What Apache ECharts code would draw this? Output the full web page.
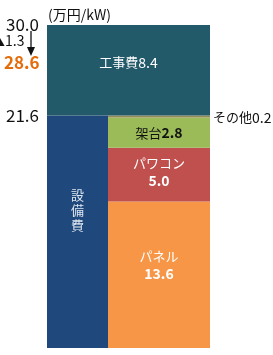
<!DOCTYPE html>
<html><head><meta charset="utf-8">
<script src="https://cdn.jsdelivr.net/npm/echarts@6/dist/echarts.min.js"></script>
<style>html,body{margin:0;padding:0;background:#fff}#c{width:273px;height:355px}</style>
</head><body><div id="c"></div>
<script>
// Data
const unitLabel = '(万円/kW)';
const equipName = '設備費';
const equipParts = ['パネル', 'パワコン', '架台', 'その他'];
const equipValues = [13.6, 5.0, 2.8, 0.2];
const constructionName = '工事費';
const constructionValue = 8.4;
const totalBefore = 30.0;
const totalAfter = 28.6;
const reduction = 1.3;
const tickValues = [21.6, 30.0];

const equipTotal = Math.round(equipValues.reduce((a, b) => a + b, 0) * 10) / 10;
const partColors = ['#F79646', '#C0504D', '#9BBB59', '#948A54'];
const font = '"Noto Sans CJK JP", "Noto Sans", sans-serif';

const partLabels = [
  { show: true, position: 'inside', offset: [0, -10], fontFamily: font, formatter: p => '{n|' + p.seriesName + '}\n{v|' + p.value.toFixed(1) + '}',
    rich: { n: { color: '#fff', fontSize: 13, fontFamily: font, lineHeight: 18 }, v: { color: '#fff', fontSize: 14, fontWeight: 'bold', fontFamily: font, lineHeight: 18 } } },
  { show: true, position: 'inside', offset: [0, -3], fontFamily: font, formatter: p => '{n|' + p.seriesName + '}\n{v|' + p.value.toFixed(1) + '}',
    rich: { n: { color: '#fff', fontSize: 13, fontFamily: font, lineHeight: 18 }, v: { color: '#fff', fontSize: 14, fontWeight: 'bold', fontFamily: font, lineHeight: 18 } } },
  { show: true, position: 'inside', fontFamily: font, formatter: p => '{n|' + p.seriesName + '}{v|' + p.value.toFixed(1) + '}',
    rich: { n: { color: '#111', fontSize: 13, fontFamily: font }, v: { color: '#111', fontSize: 14, fontWeight: 'bold', fontFamily: font } } },
  { show: true, position: 'right', distance: 3, offset: [0, 1], fontFamily: font, formatter: p => '{n|' + p.seriesName + '}{v|' + p.value.toFixed(1) + '}',
    rich: { n: { color: '#111', fontSize: 13, fontFamily: font }, v: { color: '#111', fontSize: 14, fontFamily: font } } }
];

const series = [
  { name: equipName, type: 'bar', xAxisIndex: 0, stack: 'left', barWidth: 61, barGap: '0%', data: [equipTotal],
    itemStyle: { color: '#1F497D' },
    label: { show: true, position: 'inside', offset: [0, -22], color: '#dfe6f0', fontSize: 13, lineHeight: 15, fontFamily: font,
      formatter: p => p.seriesName.split('').join('\n') } }
];
equipParts.forEach((name, i) => {
  series.push({ name, type: 'bar', xAxisIndex: 0, stack: 'right', barWidth: 102, barGap: '0%', data: [equipValues[i]],
    itemStyle: { color: partColors[i] }, label: partLabels[i] });
});
series.push({ name: 'base', type: 'bar', xAxisIndex: 1, stack: 'top', barWidth: '100%', data: [equipTotal],
  itemStyle: { color: 'rgba(0,0,0,0)' }, silent: true });
series.push({ name: constructionName, type: 'bar', xAxisIndex: 1, stack: 'top', barWidth: '100%', data: [constructionValue],
  itemStyle: { color: '#235A6A' },
  label: { show: true, position: 'inside', offset: [0, -8], color: '#fff', fontFamily: font,
    formatter: p => '{n|' + p.seriesName + '}{v|' + p.value.toFixed(1) + '}',
    rich: { n: { color: '#fff', fontSize: 13, fontFamily: font }, v: { color: '#fff', fontSize: 14, fontFamily: font } } } });

const chart = echarts.init(document.getElementById('c'), null, { renderer: 'canvas' });
chart.setOption({
  animation: false,
  backgroundColor: '#fff',
  title: { text: unitLabel, left: 43, top: 3, textStyle: { fontSize: 14, fontWeight: 'normal', color: '#111', fontFamily: font } },
  grid: { left: 47, right: 63, top: 25, bottom: 7, containLabel: false },
  xAxis: [
    { type: 'category', data: [equipName], show: false },
    { type: 'category', data: [constructionName], show: false }
  ],
  yAxis: {
    type: 'value', min: 0, max: totalBefore,
    axisLine: { show: false }, axisTick: { show: false }, splitLine: { show: false },
    axisLabel: { customValues: tickValues, formatter: v => v.toFixed(1), fontSize: 17, color: '#111', margin: 8, fontFamily: font }
  },
  graphic: [
    { type: 'text', left: -9, top: 34, style: { text: '▲' + reduction.toFixed(1), fill: '#111', font: '14px ' + font } },
    { type: 'line', shape: { x1: 31, y1: 31, x2: 31, y2: 52 }, style: { stroke: '#111', lineWidth: 1.3 } },
    { type: 'polygon', shape: { points: [[27, 47], [35, 47], [31, 56]] }, style: { fill: '#111' } },
    { type: 'text', left: 4, top: 54, style: { text: totalAfter.toFixed(1), fill: '#E46C0A', font: 'bold 17px ' + font } }
  ],
  series
});
</script></body></html>
